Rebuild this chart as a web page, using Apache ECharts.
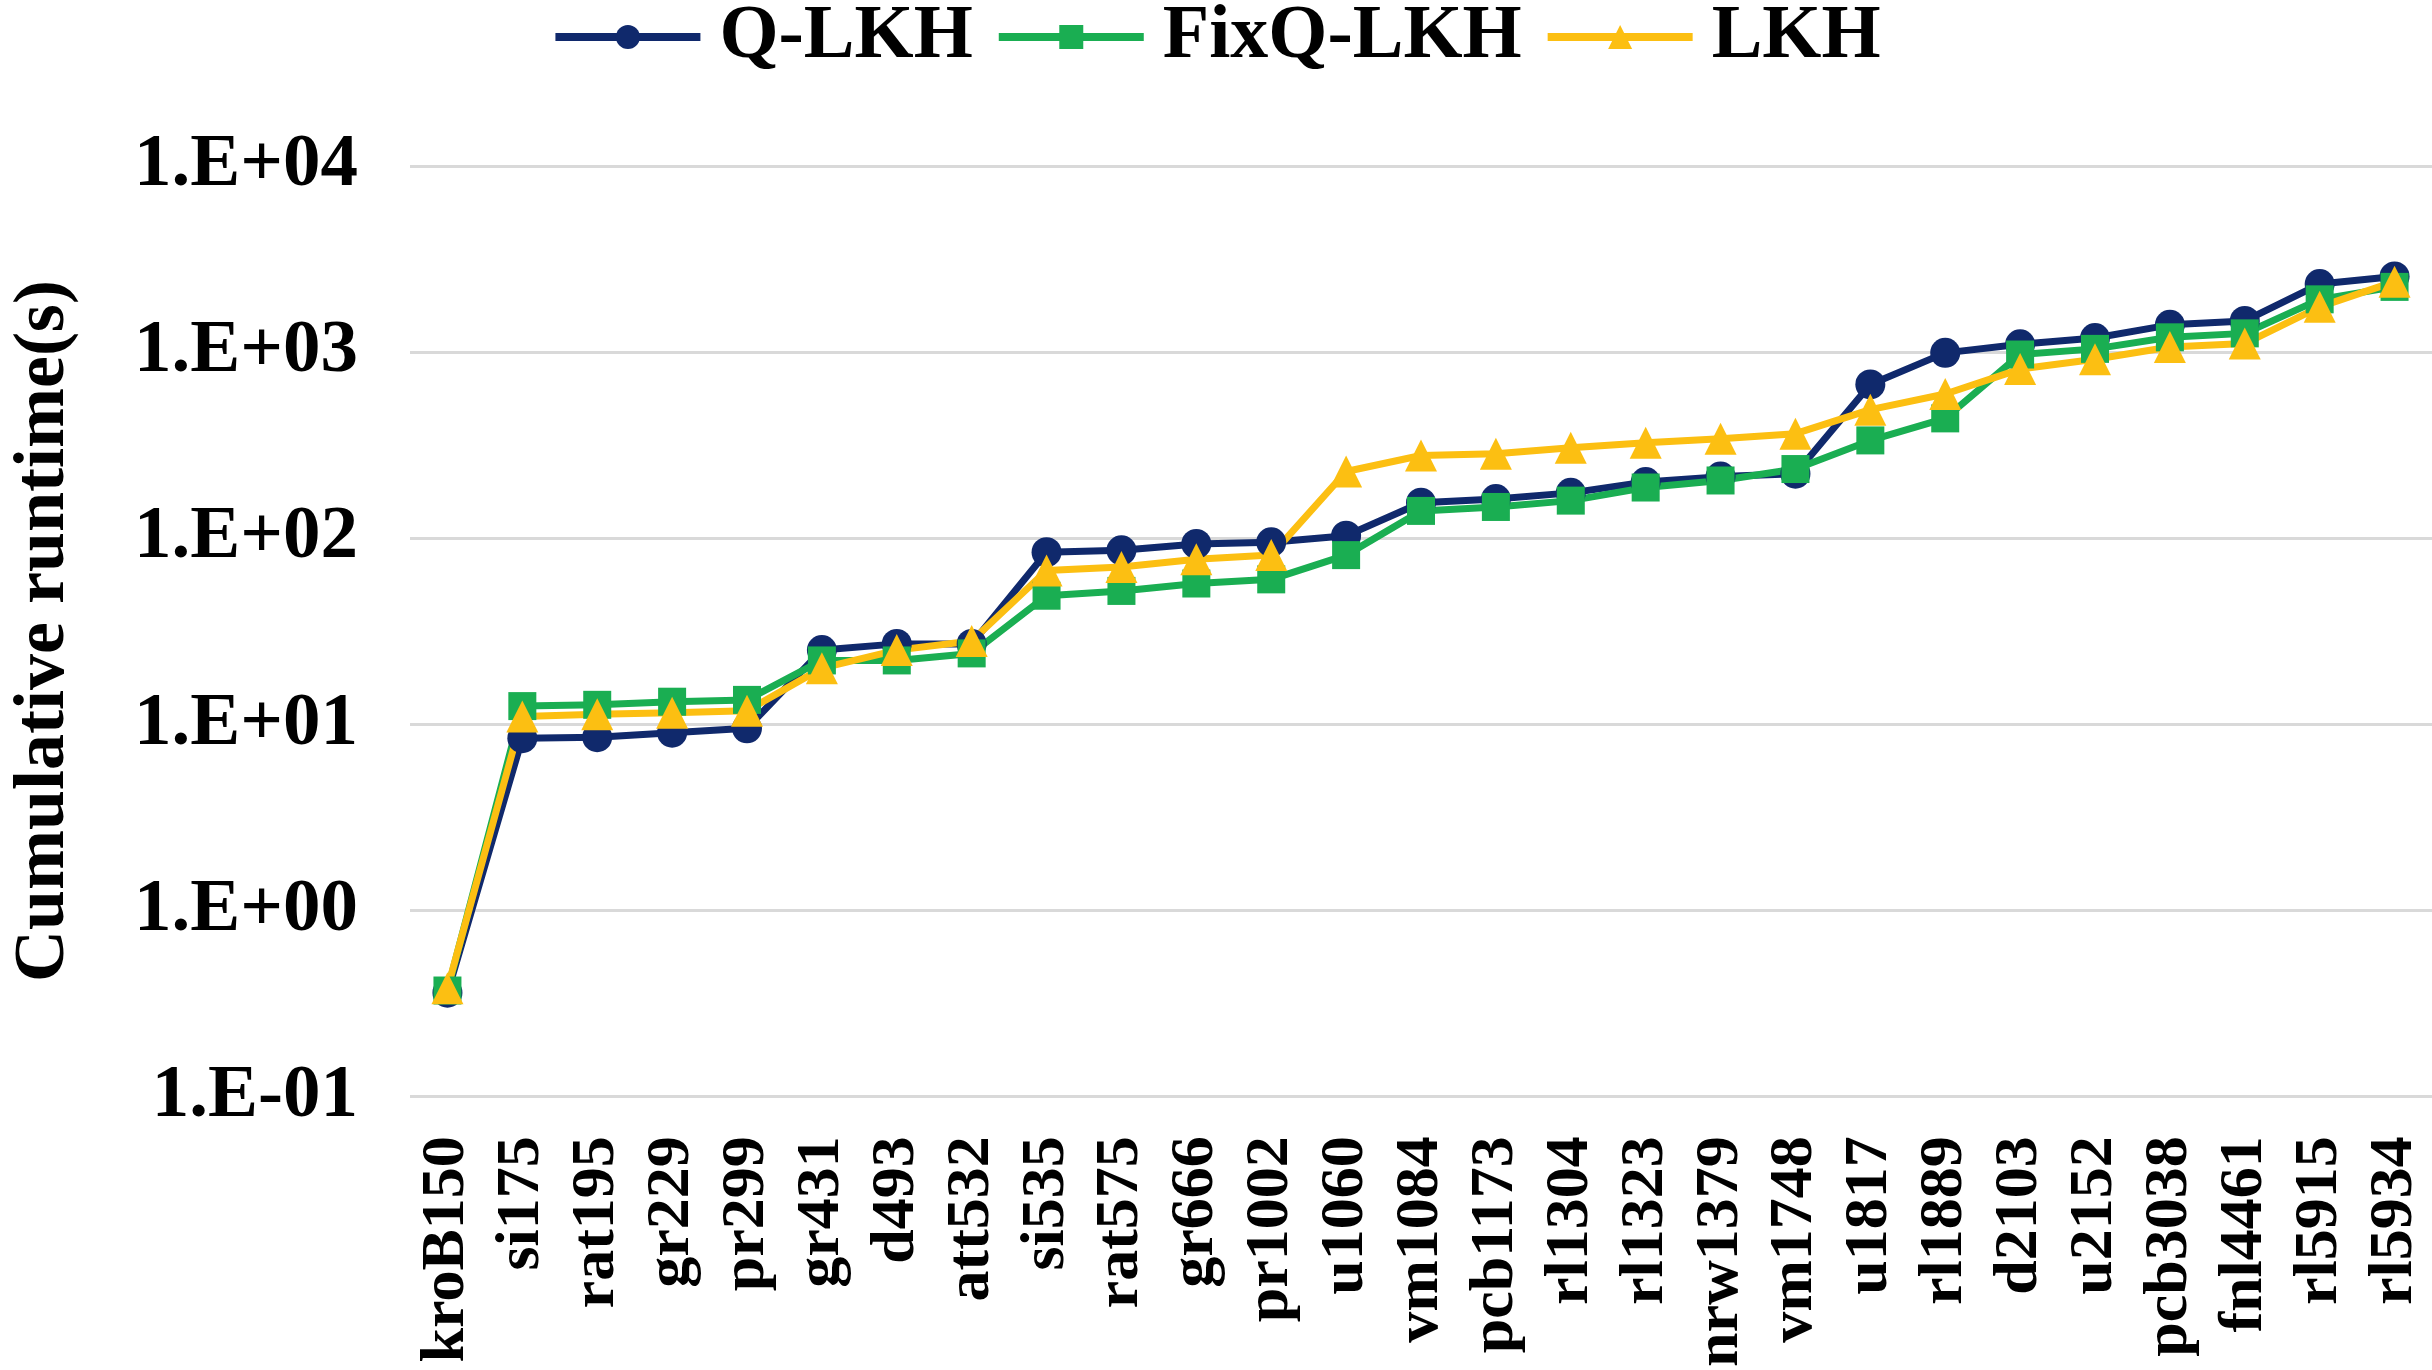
<!DOCTYPE html>
<html>
<head>
<meta charset="utf-8">
<script src="https://cdn.jsdelivr.net/npm/echarts@6/dist/echarts.min.js"></script>
<style>
html, body { margin: 0; padding: 0; background: #fff; }
#main { width: 2432px; height: 1370px; }
</style>
</head>
<body>
<div id="main"></div>
<script>
// 实例名称
var categories = ['kroB150', 'si175', 'rat195', 'gr229', 'pr299', 'gr431', 'd493', 'att532', 'si535', 'rat575', 'gr666', 'pr1002', 'u1060', 'vm1084', 'pcb1173', 'rl1304', 'rl1323', 'nrw1379', 'vm1748', 'u1817', 'rl1889', 'd2103', 'u2152', 'pcb3038', 'fnl4461', 'rl5915', 'rl5934'];

// 累计运行时间(s)
var qlkhData = [0.36, 8.4, 8.5, 9.0, 9.5, 25, 27, 27, 84, 86, 93, 95, 103, 155, 162, 175, 200, 214, 222, 670, 990, 1100, 1190, 1400, 1470, 2320, 2550];
var fixqlkhData = [0.37, 12.5, 12.7, 13.2, 13.5, 22, 22, 24, 49, 52, 57, 60, 81, 140, 147, 159, 187, 204, 235, 335, 440, 970, 1040, 1200, 1260, 1920, 2240];
var lkhData = [0.38, 11.0, 11.3, 11.5, 11.8, 20, 25, 28, 67, 70, 77, 81, 228, 278, 284, 306, 325, 342, 364, 490, 595, 810, 915, 1065, 1110, 1750, 2390];

var font = "'Liberation Serif', 'Times New Roman', serif";

var myChart = echarts.init(document.getElementById('main'));

function lineSeries(name, data, color, symbol, size) {
    return {
        name: name,
        type: 'line',
        data: data,
        symbol: symbol,
        symbolSize: size,
        lineStyle: { color: color, width: 7 },
        itemStyle: { color: color },
        animation: false
    };
}

var option = {
    backgroundColor: '#fff',
    color: ['#10296c', '#1aae52', '#fcbf12'],
    legend: {
        top: -6,
        left: 'center',
        itemWidth: 145,
        itemHeight: 30,
        itemGap: 22,
        lineStyle: { width: 8 },
        textStyle: {
            fontFamily: font,
            fontWeight: 'bold',
            fontSize: 76,
            color: '#000',
            padding: [0, 0, 0, 14]
        },
        data: ['Q-LKH', 'FixQ-LKH', 'LKH']
    },
    grid: {
        left: 405,
        right: 0,
        top: 166,
        bottom: 264,
        containLabel: false
    },
    xAxis: {
        type: 'category',
        data: categories,
        boundaryGap: true,
        axisLine: { show: false },
        axisTick: { show: false },
        splitLine: { show: false },
        axisLabel: {
            rotate: 90,
            interval: 0,
            margin: 40,
            fontFamily: font,
            fontWeight: 'bold',
            fontSize: 62,
            color: '#000'
        }
    },
    yAxis: {
        type: 'log',
        logBase: 10,
        min: 0.1,
        max: 10000,
        name: 'Cumulative runtime(s)',
        nameLocation: 'middle',
        nameGap: 330,
        nameTextStyle: {
            fontFamily: font,
            fontWeight: 'bold',
            fontSize: 72,
            color: '#000'
        },
        axisLine: { show: false },
        axisTick: { show: false },
        splitLine: { show: true, lineStyle: { color: '#d9d9d9', width: 3 } },
        axisLabel: {
            margin: 52,
            fontFamily: font,
            fontWeight: 'bold',
            fontSize: 75,
            color: '#000',
            formatter: function (v) {
                var e = Math.round(Math.log10(v));
                var a = Math.abs(e);
                return '1.E' + (e < 0 ? '-' : '+') + (a < 10 ? '0' : '') + a;
            }
        }
    },
    series: [
        lineSeries('Q-LKH', qlkhData, '#10296c', 'circle', 30),
        lineSeries('FixQ-LKH', fixqlkhData, '#1aae52', 'rect', 28),
        lineSeries('LKH', lkhData, '#fcbf12', 'triangle', 32)
    ]
};

myChart.setOption(option);
</script>
</body>
</html>
